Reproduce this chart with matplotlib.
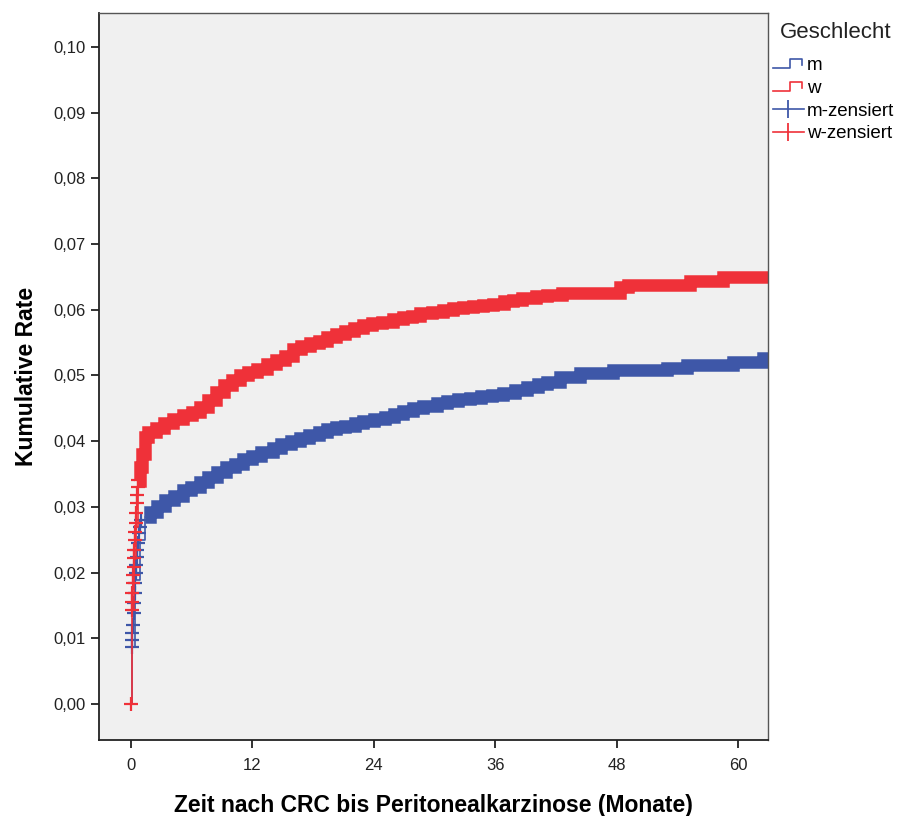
import numpy as np
import matplotlib
matplotlib.use("Agg")
import matplotlib.pyplot as plt
from matplotlib.lines import Line2D
from matplotlib.legend_handler import HandlerLine2D

plt.rcParams["font.family"] = ["Liberation Sans", "DejaVu Sans"]

# ── data: cumulative incidence by sex (months, rate) ─────────────────────────
m_time = [0, 0.1, 0.4, 0.9, 1.4, 1.9, 2.6, 3.4, 4.3, 5.1, 5.9, 6.8, 7.6, 8.5,
          9.4, 10.3, 11.1, 12.0, 12.9, 14.0, 14.8, 15.8, 16.7, 17.6, 18.6,
          19.4, 20.3, 21.2, 22.1, 22.9, 24.0, 25.1, 26.0, 26.9, 27.9, 28.9,
          30.2, 31.2, 32.3, 33.5, 34.6, 35.7, 36.8, 38.0, 39.1, 40.2, 41.1,
          42.4, 44.4, 47.6, 53.0, 55.0, 59.5, 62.5, 63.0]
m_rate = [0, 0.0087, 0.0189, 0.0250, 0.0285, 0.0292, 0.0302, 0.0310, 0.0317,
          0.0325, 0.0331, 0.0338, 0.0345, 0.0353, 0.0360, 0.0366, 0.0373,
          0.0378, 0.0383, 0.0390, 0.0396, 0.0401, 0.0405, 0.0410, 0.0414,
          0.0418, 0.0421, 0.0423, 0.0427, 0.0431, 0.0434, 0.0437, 0.0442,
          0.0446, 0.0450, 0.0454, 0.0458, 0.0461, 0.0464, 0.0466, 0.0469,
          0.0471, 0.0474, 0.0478, 0.0483, 0.0487, 0.0490, 0.0498, 0.0504,
          0.0508, 0.0511, 0.0516, 0.0521, 0.0527, 0.0527]

w_time = [0, 0.1, 0.3, 0.5, 0.7, 0.9, 1.1, 1.4, 1.7, 2.5, 3.3, 4.2, 5.1, 6.0,
          6.8, 7.6, 8.4, 9.2, 10.0, 10.8, 11.6, 12.5, 13.4, 14.3, 15.2, 16.0,
          16.8, 17.7, 18.6, 19.4, 20.3, 21.2, 22.0, 22.9, 23.8, 24.8, 25.9,
          26.9, 27.8, 28.6, 29.8, 30.8, 31.8, 32.8, 33.8, 34.8, 35.8, 36.9,
          37.8, 38.6, 40.0, 41.1, 42.6, 48.3, 49.1, 55.3, 58.5, 63.0]
w_rate = [0, 0.0143, 0.0220, 0.0270, 0.0340, 0.0360, 0.0380, 0.0406, 0.0414,
          0.0420, 0.0427, 0.0434, 0.0440, 0.0445, 0.0452, 0.0462, 0.0475,
          0.0485, 0.0493, 0.0500, 0.0505, 0.0510, 0.0517, 0.0523, 0.0530,
          0.0540, 0.0545, 0.0549, 0.0553, 0.0558, 0.0563, 0.0567, 0.0572,
          0.0577, 0.0580, 0.0582, 0.0586, 0.0589, 0.0591, 0.0595, 0.0597,
          0.0599, 0.0602, 0.0604, 0.0605, 0.0607, 0.0609, 0.0613, 0.0615,
          0.0618, 0.0621, 0.0623, 0.0626, 0.0635, 0.0638, 0.0644, 0.0650,
          0.0650]

# censored observations (early, sparse part of the curve)
m_cens_time = [0.1, 0.1, 0.15, 0.2, 0.25, 0.3, 0.35, 0.4, 0.45, 0.5, 0.55,
               0.6, 0.7, 0.8, 0.9, 1.0]
m_cens_rate = [0.0087, 0.0097, 0.0108, 0.0120, 0.0138, 0.0154, 0.0169,
               0.0184, 0.0199, 0.0212, 0.0224, 0.0234, 0.0245, 0.0260,
               0.0270, 0.0280]
w_cens_time = [0.0, 0.1, 0.1, 0.15, 0.2, 0.2, 0.25, 0.3, 0.3, 0.35, 0.4,
               0.45, 0.5, 0.55, 0.6, 0.65, 0.7]
w_cens_rate = [0.0, 0.0143, 0.0155, 0.0169, 0.0184, 0.0196, 0.0209, 0.0222,
               0.0234, 0.0250, 0.0262, 0.0275, 0.0290, 0.0306, 0.0318,
               0.0330, 0.0341]

x_ticks = [0, 12, 24, 36, 48, 60]
y_ticks = [0.00, 0.01, 0.02, 0.03, 0.04, 0.05, 0.06, 0.07, 0.08, 0.09, 0.10]

BLUE = "#3E57A8"
RED = "#EF3139"


class HandlerStep(HandlerLine2D):
    """Legend icon drawn as a small step."""

    def create_artists(self, legend, orig_handle, xdescent, ydescent,
                       width, height, fontsize, trans):
        xs = np.array([0, 0.55, 0.55, 0.95, 0.95]) * width - xdescent
        ys = np.array([0.15, 0.15, 0.85, 0.85, 0.4]) * height - ydescent
        line = Line2D(xs, ys, color=orig_handle.get_color(),
                      lw=orig_handle.get_linewidth())
        line.set_transform(trans)
        return [line]


def draw_group(ax, t, r, ct, cr, color):
    t = np.asarray(t)
    r = np.asarray(r)
    ax.step(t, r, where="post", color=color, lw=1.2)
    # dense censoring marks later on merge into a solid band
    band = t >= max(ct)
    ax.step(t[band], r[band], where="post", color=color, lw=9,
            solid_capstyle="butt", solid_joinstyle="miter")
    ax.plot(ct, cr, "+", color=color, ms=10, mew=1.6)


fig = plt.figure(figsize=(8.99, 8.16), dpi=100)
ax = fig.add_axes([99 / 899, 76 / 816, 669 / 899, 727 / 816])
ax.set_facecolor("#F0F0F0")

draw_group(ax, m_time, m_rate, m_cens_time, m_cens_rate, BLUE)
draw_group(ax, w_time, w_rate, w_cens_time, w_cens_rate, RED)

ax.set_xlim(-3.16, 62.96)
ax.set_ylim(-0.00548, 0.10517)
ax.set_xticks(x_ticks)
ax.set_yticks(y_ticks)
ax.set_yticklabels([f"{v:.2f}".replace(".", ",") for v in y_ticks])
ax.tick_params(direction="out", length=6, width=1.3, labelsize=12,
               color="#222222", labelcolor="#222222")
ax.tick_params(axis="x", pad=7)
for side in ["left", "bottom"]:
    ax.spines[side].set_linewidth(1.3)
    ax.spines[side].set_color("#222222")
for side in ["top", "right"]:
    ax.spines[side].set_linewidth(1.0)
    ax.spines[side].set_color("#555555")

ax.set_xlabel("Zeit nach CRC bis Peritonealkarzinose (Monate)",
              fontsize=16.5, fontweight="bold", labelpad=15)
ax.set_ylabel("Kumulative Rate", fontsize=16.5, fontweight="bold",
              labelpad=11)

handles = [
    Line2D([], [], color=BLUE, lw=1.2),
    Line2D([], [], color=RED, lw=1.2),
    Line2D([], [], color=BLUE, lw=1.2, marker="|", ms=13, mew=1.3),
    Line2D([], [], color=RED, lw=1.2, marker="|", ms=13, mew=1.3),
]
labels = ["m", "w", "m-zensiert", "w-zensiert"]
fig.text(836 / 899, 1 - 33 / 816, "Geschlecht", ha="center", va="center",
         fontsize=16, color="#222222")
fig.legend(handles, labels, loc="upper left",
           bbox_to_anchor=(773 / 899, 1 - 57 / 816), frameon=False,
           fontsize=13.5, numpoints=1,
           handlelength=1.65, handletextpad=0.15, labelspacing=0.3,
           borderpad=0, borderaxespad=0,
           handler_map={handles[0]: HandlerStep(), handles[1]: HandlerStep()})

fig.savefig("out.png", dpi=100)
